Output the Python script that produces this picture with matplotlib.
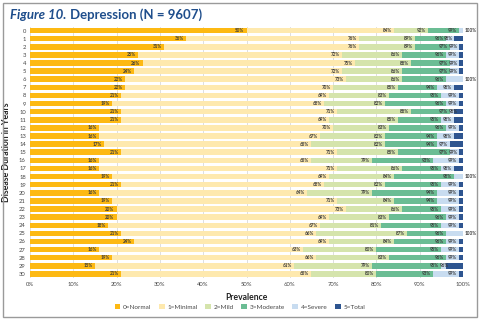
import matplotlib
matplotlib.use("Agg")
import matplotlib.pyplot as plt
from matplotlib.patches import Rectangle, Patch
import numpy as np

plt.rcParams['font.family'] = ['Lato', 'DejaVu Sans']

years = list(range(31))

# Cumulative prevalence (%) at the end of each severity level
cum_normal = [50, 36, 31, 25, 26, 24, 22, 22, 21, 19, 21, 21, 16, 16, 17, 21,
              16, 16, 19, 21, 16, 19, 20, 20, 18, 21, 24, 16, 19, 15, 21]
cum_minimal = [84, 76, 76, 72, 75, 72, 73, 70, 69, 68, 71, 69, 70, 67, 65, 71,
               65, 71, 69, 68, 64, 71, 73, 69, 67, 66, 69, 63, 66, 61, 65]
cum_mild = [92, 89, 89, 86, 88, 86, 86, 85, 83, 82, 88, 85, 83, 82, 82, 85,
            79, 86, 84, 82, 79, 84, 86, 83, 81, 87, 84, 80, 83, 79, 80]
cum_moderate = [99, 96, 97, 96, 97, 97, 96, 94, 95, 96, 97, 95, 96, 94, 94, 97,
                93, 95, 98, 95, 94, 94, 95, 96, 95, 96, 96, 95, 96, 95, 93]
cum_severe = [100, 98, 99, 99, 99, 99, 100, 98, 99, 99, 98, 98, 99, 98, 97, 99,
              99, 98, 100, 99, 99, 99, 99, 99, 99, 100, 99, 99, 99, 96, 99]
cum_total = [100] * 31

levels = ['0=Normal', '1=Minimal', '2=Mild', '3=Moderate', '4=Severe', '5=Total']
colors = ['#FDB913', '#FEE9AE', '#D5E4AC', '#6BBD94', '#C8DCF0', '#2E5590']
xticks = [0, 10, 20, 30, 40, 50, 60, 70, 80, 90, 100]

cums = [cum_normal, cum_minimal, cum_mild, cum_moderate, cum_severe, cum_total]

W, H = 480, 321
fig = plt.figure(figsize=(W / 100, H / 100), dpi=100)
fig.patches.append(Rectangle((3 / W, 4 / H), 474 / W, 314 / H, transform=fig.transFigure,
                             fill=False, edgecolor='#9a9a9a', linewidth=1.0))

ax = fig.add_axes([30 / W, 1 - 278 / H, 433 / W, 251.5 / H])
y = np.array(years)
prev = np.zeros(len(years))
last_x = np.full(len(years), -10.0)   # right edge of the previous label in each row
for i, (name, col, cum) in enumerate(zip(levels, colors, cums)):
    cum = np.array(cum, dtype=float)
    ax.barh(y, cum - prev, left=prev, height=0.68, color=col, label=name,
            linewidth=0, zorder=2)
    if i < 5:
        for k, (yy, v) in enumerate(zip(y, cum)):
            if v >= 100:
                ax.text(100.3, yy, f"{int(v)}%", ha='left', va='center',
                        fontsize=3.3, color='#3a3a3a', fontweight='bold', zorder=4)
            else:
                x = max(v - 0.5, last_x[k] + 2.2)
                ax.text(x, yy, f"{int(v)}%", ha='right', va='center',
                        fontsize=3.3, color='#3a3a3a', fontweight='bold', zorder=4)
                last_x[k] = x
    prev = cum

ax.set_xlim(0, 100)
ax.set_ylim(30.5, -0.5)
ax.set_yticks(years)
ax.set_yticklabels([str(v) for v in years], fontsize=4.2, color='#444444')
ax.set_xticks(xticks)
ax.set_xticklabels([f"{v}%" for v in xticks], fontsize=4.2, color='#444444')
ax.tick_params(length=0, pad=3)
for s in ax.spines.values():
    s.set_visible(False)
ax.grid(axis='x', color='#d9d9d9', linewidth=0.6, zorder=0)
ax.set_axisbelow(True)

ax.set_xlabel('Prevalence', fontsize=6.2, fontweight='bold', color='#222222', labelpad=4)
ax.set_ylabel('Disease Duration in Years', fontsize=6.2, fontweight='bold',
              color='#222222', labelpad=6)

handles = [Patch(facecolor=c, edgecolor='none', label=l) for l, c in zip(levels, colors)]
fig.legend(handles=handles, loc='center', bbox_to_anchor=(240 / W, 1 - 307 / H),
           ncol=6, frameon=False, fontsize=4.6, handlelength=0.9, handleheight=0.9,
           handletextpad=0.4, columnspacing=1.2, labelcolor='#444444')

# Two-part title: italic figure number followed by the chart name
t1 = fig.text(10 / W, 1 - 15 / H, 'Figure 10.', fontsize=9.5, fontweight='bold',
              fontstyle='italic', color='#1F4E8C', va='center', ha='left')
fig.canvas.draw()
bb = t1.get_window_extent(renderer=fig.canvas.get_renderer())
fig.text((bb.x1 + 4) / W, 1 - 15 / H, 'Depression (N = 9607)', fontsize=9.5,
         fontweight='bold', color='#1F4E8C', va='center', ha='left')

fig.savefig('out.png', dpi=100)
